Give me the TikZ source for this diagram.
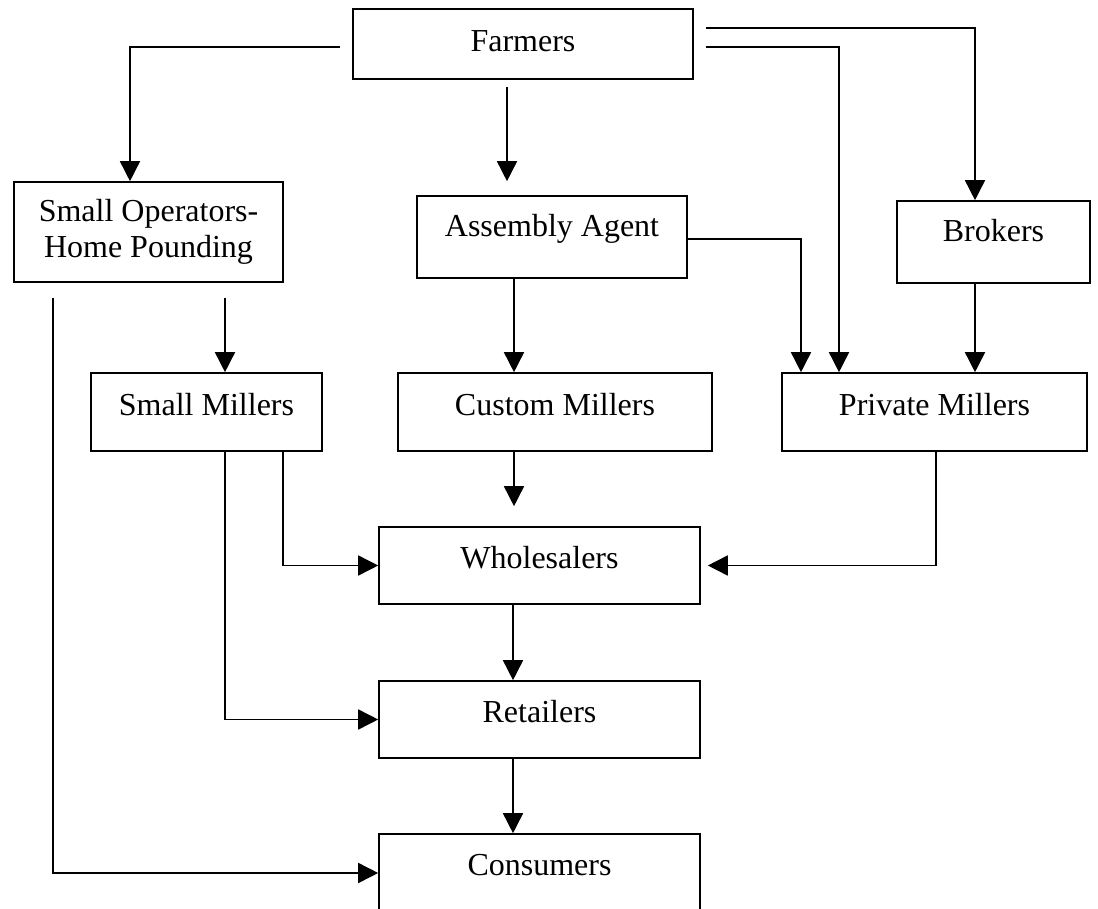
\documentclass[tikz,border=0pt]{standalone}
\usepackage{fontspec}
\setmainfont{Liberation Serif}
\usetikzlibrary{arrows.meta,calc}
\begin{document}
\begin{tikzpicture}[x=1pt,y=-1pt,
  box/.style={draw, line width=1.6pt, rectangle, inner sep=0pt, font=\fontsize{32}{36}\selectfont},
  arr/.style={line width=1.6pt, -{Triangle[length=20pt,width=20pt]}}
]
\useasboundingbox (0,0) rectangle (1098,909);

% nodes
\node[box, minimum width=340pt, minimum height=70pt, text height=43pt, text depth=27pt] (farmers) at (523,44) {Farmers};
\node[box, minimum width=269pt, minimum height=100pt, align=center] (smallops) at (148.5,232) {Small Operators-\\Home Pounding};
\node[box, minimum width=270pt, minimum height=82pt, text height=41pt, text depth=41pt] (assembly) at (552,237) {Assembly Agent};
\node[box, minimum width=193pt, minimum height=82pt, text height=41pt, text depth=41pt] (brokers) at (993.5,242) {Brokers};
\node[box, minimum width=231pt, minimum height=78pt, text height=42pt, text depth=36pt] (smallmillers) at (206.5,412) {Small Millers};
\node[box, minimum width=314pt, minimum height=78pt, text height=42pt, text depth=36pt] (custom) at (555,412) {Custom Millers};
\node[box, minimum width=305pt, minimum height=78pt, text height=42pt, text depth=36pt] (private) at (934.5,412) {Private Millers};
\node[box, minimum width=321pt, minimum height=77pt, text height=41pt, text depth=36pt] (wholesalers) at (539.5,565.5) {Wholesalers};
\node[box, minimum width=321pt, minimum height=77pt, text height=41pt, text depth=36pt] (retailers) at (539.5,719.5) {Retailers};
\node[box, minimum width=321pt, minimum height=78pt, text height=41pt, text depth=37pt] (consumers) at (539.5,873) {Consumers};

% connectors
\draw[arr] ([xshift=-12pt,yshift=-3pt]farmers.west) -| ([xshift=-18.5pt]smallops.north);
\draw[arr, shorten >=14pt] ([xshift=-16pt,yshift=-7pt]farmers.south) -- ([xshift=-16pt]farmers.south |- assembly.north);
\draw[arr] ([xshift=12pt,yshift=16pt]farmers.east) -| ([xshift=-18.5pt]brokers.north);
\draw[arr] ([xshift=12pt,yshift=-3pt]farmers.east) -| ([xshift=-95.5pt]private.north);
\draw[arr] ([yshift=-2pt]assembly.east) -| ([xshift=-133.5pt]private.north);
\draw[arr] ([xshift=-18.5pt]brokers.south) -- ([xshift=-18.5pt]brokers.south |- private.north);
\draw[arr] ([xshift=-38pt]assembly.south) -- ([xshift=-38pt]assembly.south |- custom.north);
\draw[arr] ([xshift=76.5pt,yshift=-15pt]smallops.south) -- ([xshift=76.5pt]smallops.south |- smallmillers.north);
\draw[arr] ([xshift=-95.5pt,yshift=-15pt]smallops.south) |- (consumers.west);
\draw[arr] ([xshift=76.5pt]smallmillers.south) |- (wholesalers.west);
\draw[arr] ([xshift=18.5pt]smallmillers.south) |- (retailers.west);
\draw[arr, shorten >=20pt] ([xshift=-41pt]custom.south) -- ([xshift=-41pt]custom.south |- wholesalers.north);
\draw[arr, shorten >=7pt] ([xshift=1.5pt]private.south) |- (wholesalers.east);
\draw[arr] ([xshift=-26.5pt]wholesalers.south) -- ([xshift=-26.5pt]wholesalers.south |- retailers.north);
\draw[arr] ([xshift=-26.5pt]retailers.south) -- ([xshift=-26.5pt]retailers.south |- consumers.north);
\end{tikzpicture}
\end{document}
